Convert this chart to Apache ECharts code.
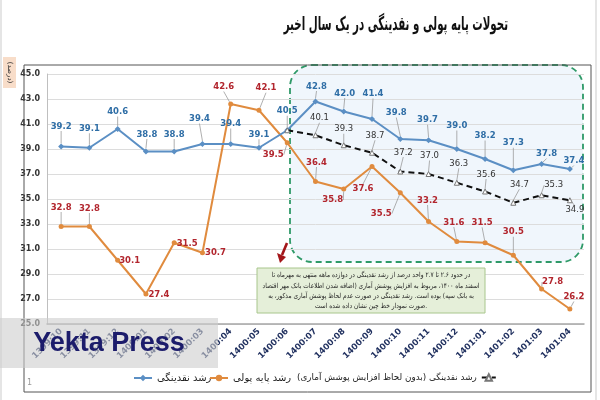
<!DOCTYPE html>
<html><head><meta charset="utf-8">
<script src="https://cdn.jsdelivr.net/npm/echarts@6/dist/echarts.min.js"></script>
<style>html,body{margin:0;padding:0;background:#fff}#c{width:600px;height:400px}</style>
</head><body><div id="c"></div>
<script>
const categories = ['1399:10','1399:11','1399:12','1400:01','1400:02','1400:03','1400:04','1400:05','1400:06','1400:07','1400:08','1400:09','1400:10','1400:11','1400:12','1401:01','1401:02','1401:03','1401:04'];
const liquidityGrowth = [39.2,39.1,40.6,38.8,38.8,39.4,39.4,39.1,40.5,42.8,42.0,41.4,39.8,39.7,39.0,38.2,37.3,37.8,37.4];
const baseMoneyGrowth = [32.8,32.8,30.1,27.4,31.5,30.7,42.6,42.1,39.5,36.4,35.8,37.6,35.5,33.2,31.6,31.5,30.5,27.8,26.2];
const adjustedStart = 8; // 1400:06
const adjustedLiquidity = [40.5,40.1,39.3,38.7,37.2,37.0,36.3,35.6,34.7,35.3,34.9];
const yTicks = {min:25, max:45, interval:2};

const seriesNames = ['رشد نقدینگی','رشد پایه پولی','رشد نقدینگی (بدون لحاظ افزایش پوشش آماری)'];
const titleText = 'تحولات پایه پولی و نقدینگی در یک سال اخیر';
const unitText = '(درصد)';
const noteLines = [
 'در حدود ۲.۶ تا ۲.۷ واحد درصد از رشد نقدینگی در دوازده ماهه منتهی به مهرماه تا',
 'اسفند ماه ۱۴۰۰، مربوط به افزایش پوشش آماری (اضافه شدن اطلاعات بانک مهر اقتصاد',
 'به بانک سپه) بوده است. رشد نقدینگی در صورت عدم لحاظ پوشش آماری مذکور، به',
 'صورت نمودار خط چین نشان داده شده است.'
];

// label offsets (styling only): [dx, dy] of label centre from point
const blueOff = [[0,-20],[0,-19],[0,-17],[1,-17],[0,-17],[-3,-25],[0,-20],[0,-13],[0,-19],[1,-15],[1,-18],[1,-25],[-4,-26],[-1,-20],[0,-23],[0,-23],[0,-27],[5,-10],[4,-8]];
const orangeOff = [[0,-19],[0,-18],[12,1],[13,1],[13,1],[13,0],[-7,-17],[7,-22],[-14,12],[1,-19],[-11,11],[-9,22],[-19,21],[-1,-21],[-3,-19],[-3,-20],[0,-23],[11,-7],[4,-12]];
const blackOff = [[0,0],[4,-17],[0,-16],[3,-17],[3,-19],[1,-18],[2,-19],[1,-17],[6,-18],[12,-10],[5,10]];

function layoutFrom(offs, base){
  return function(p){
    const o = offs[p.dataIndex - base] || [0,-15];
    const r = p.rect;
    return {x: r.x + r.width/2 + o[0], y: r.y + r.height/2 + o[1], align:'center', verticalAlign:'middle'};
  };
}
const fmt1 = p => Number(p.value).toFixed(1);

const adjData = categories.map((c,i)=>{
  if (i < adjustedStart) return null;
  const v = adjustedLiquidity[i-adjustedStart];
  return i === adjustedStart ? {value:v, label:{show:false}, labelLine:{show:false}} : v;
});

const chart = echarts.init(document.getElementById('c'), null, {renderer:'canvas'});
const font = 'DejaVu Sans, sans-serif';
const noteGraphics = noteLines.map((t,i)=>({
  type:'text', x:371, y:272 + i*10.3, z:60, scaleX:0.84,
  style:{text:t, font:'7px '+font, fill:'#222', textAlign:'center', textVerticalAlign:'top'}
}));
const legendText = {fontSize:10, color:'#222', fontFamily:font};

chart.setOption({
  animation:false,
  textStyle:{fontFamily:font},
  grid:{left:47, right:16, top:74, bottom:76, containLabel:false},
  legend:[
    {data:[seriesNames[0]], left:128, top:368, itemWidth:18, itemHeight:8, textStyle:legendText},
    {data:[seriesNames[1]], left:204, top:368, itemWidth:18, itemHeight:8, textStyle:legendText},
    {data:[seriesNames[2]], left:292, top:368, align:'right', itemWidth:14, itemHeight:8, textStyle:Object.assign({}, legendText, {fontSize:8.8})}
  ],
  xAxis:{
    type:'category', data:categories, boundaryGap:true,
    axisLine:{lineStyle:{color:'#a6a6a6', width:1.5}},
    axisTick:{show:false},
    axisLabel:{interval:0, rotate:45, color:'#1f2f5e', fontWeight:'bold', fontSize:8.5, margin:6, fontFamily:font}
  },
  yAxis:{
    type:'value', min:yTicks.min, max:yTicks.max, interval:yTicks.interval,
    axisLine:{show:true, lineStyle:{color:'#bfbfbf'}},
    axisTick:{show:false},
    splitLine:{lineStyle:{color:'#dcdcdc'}},
    axisLabel:{formatter:v=>v.toFixed(1), color:'#333', fontWeight:'bold', fontSize:8, margin:7, fontFamily:font}
  },
  graphic:[
    {type:'rect', z:-5, shape:{x:290, y:65, width:293, height:197, r:22},
     style:{fill:'rgba(222,236,248,0.45)', stroke:'#2f9a68', lineWidth:1.8, lineDash:[6,4]}},
    {type:'rect', z:50, shape:{x:24, y:65, width:567, height:327}, style:{fill:'none', stroke:'#555', lineWidth:1}},
    {type:'line', z:50, shape:{x1:1, y1:0, x2:1, y2:400}, style:{stroke:'#ddd', lineWidth:1.5}},
    {type:'line', z:50, shape:{x1:596, y1:0, x2:596, y2:400}, style:{stroke:'#ddd', lineWidth:1.5}},
    {type:'text', z:50, x:508, y:25, scaleX:0.54, style:{text:titleText, font:'bold 19px '+font, fill:'#111', textAlign:'right', textVerticalAlign:'middle'}},
    {type:'rect', z:50, shape:{x:3, y:57, width:13, height:31}, style:{fill:'#f8ddc9'}},
    {type:'text', z:51, x:9.5, y:72.5, rotation:-Math.PI/2, style:{text:unitText, font:'7px '+font, fill:'#333', textAlign:'center', textVerticalAlign:'middle'}},
    {type:'rect', z:55, shape:{x:257, y:268, width:228, height:45}, style:{fill:'#e5efd9', stroke:'#a8c68c', lineWidth:1}},
    ...noteGraphics,
    {type:'line', z:56, shape:{x1:287, y1:243, x2:282, y2:255}, style:{stroke:'#a3161a', lineWidth:2.6}},
    {type:'polygon', z:56, shape:{points:[[277,253],[286,257],[280,263]]}, style:{fill:'#a3161a'}},
    {type:'text', z:50, x:27, y:383, style:{text:'1', font:'8px '+font, fill:'#999', textVerticalAlign:'middle'}},
    {type:'rect', z:90, shape:{x:0, y:318, width:218, height:50}, style:{fill:'rgba(205,205,205,0.6)'}},
    {type:'text', z:91, x:109, y:344, style:{text:'Yekta Press', font:'bold 27px Liberation Sans, Arial, sans-serif', fill:'#1c1c6b', textAlign:'center', textVerticalAlign:'middle'}}
  ],
  series:[
    {name:seriesNames[0], type:'line', data:liquidityGrowth, z:5,
     symbol:'diamond', symbolSize:6, itemStyle:{color:'#5b8fc4'}, lineStyle:{color:'#5b8fc4', width:2},
     label:{show:true, formatter:fmt1, color:'#2f6ea6', fontWeight:'bold', fontSize:8.5, fontFamily:font},
     labelLayout:layoutFrom(blueOff,0), labelLine:{show:true, lineStyle:{color:'#9a9a9a', width:0.8}}},
    {name:seriesNames[1], type:'line', data:baseMoneyGrowth, z:4,
     symbol:'circle', symbolSize:5, itemStyle:{color:'#e08b3e'}, lineStyle:{color:'#e08b3e', width:2},
     label:{show:true, formatter:fmt1, color:'#b2262e', fontWeight:'bold', fontSize:8.5, fontFamily:font},
     labelLayout:layoutFrom(orangeOff,0), labelLine:{show:true, lineStyle:{color:'#9a9a9a', width:0.8}}},
    {name:seriesNames[2], type:'line', data:adjData, z:6,
     symbol:'triangle', symbolSize:5, itemStyle:{color:'#fff', borderColor:'#777', borderWidth:1}, lineStyle:{color:'#111', width:2, type:[6,4]},
     label:{show:true, formatter:fmt1, color:'#333', fontSize:8.5, fontFamily:font},
     labelLayout:layoutFrom(blackOff,adjustedStart), labelLine:{show:true, lineStyle:{color:'#9a9a9a', width:0.8}}}
  ]
});
</script></body></html>
